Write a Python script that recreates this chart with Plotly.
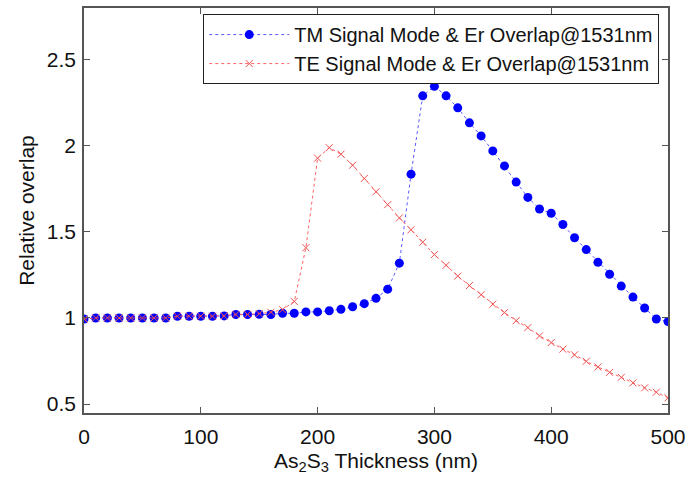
import plotly.graph_objects as go

thickness_nm = list(range(0, 510, 10))

tm_overlap = [0.994, 1.0, 1.0, 1.0, 1.0, 1.0, 1.0, 1.0, 1.01, 1.01,
              1.01, 1.01, 1.012, 1.02, 1.02, 1.021, 1.02, 1.027, 1.027, 1.035,
              1.035, 1.042, 1.05, 1.065, 1.083, 1.114, 1.167, 1.318, 1.835, 2.29,
              2.345, 2.29, 2.22, 2.133, 2.057, 1.97, 1.883, 1.789, 1.70, 1.633,
              1.608, 1.543, 1.466, 1.397, 1.323, 1.254, 1.185, 1.121, 1.058, 0.994,
              0.979]

te_overlap = [0.994, 1.0, 1.0, 1.0, 1.0, 1.0, 1.0, 1.0, 1.01, 1.01,
              1.01, 1.01, 1.012, 1.02, 1.02, 1.025, 1.033, 1.048, 1.096, 1.408,
              1.928, 1.989, 1.951, 1.887, 1.81, 1.733, 1.658, 1.581, 1.512, 1.44,
              1.368, 1.306, 1.243, 1.188, 1.135, 1.08, 1.031, 0.984, 0.944, 0.896,
              0.857, 0.819, 0.786, 0.748, 0.715, 0.684, 0.655, 0.623, 0.594, 0.569,
              0.536]

x_ticks = [0, 100, 200, 300, 400, 500]
y_ticks = [0.5, 1, 1.5, 2, 2.5]

FONT = "Liberation Sans, Arial, sans-serif"
FS = 21

fig = go.Figure()
fig.add_trace(go.Scatter(
    x=thickness_nm, y=tm_overlap, mode="lines+markers",
    name="TM Signal Mode & Er Overlap@1531nm",
    line=dict(color="rgba(70,70,255,0.9)", width=1, dash="dot"),
    marker=dict(symbol="circle", size=9, color="#0000FF"),
))
fig.add_trace(go.Scatter(
    x=thickness_nm, y=te_overlap, mode="lines+markers",
    name="TE Signal Mode & Er Overlap@1531nm",
    line=dict(color="rgba(255,80,80,0.9)", width=1, dash="dot"),
    marker=dict(symbol="x-thin", size=7, color="rgba(0,0,0,0)",
                line=dict(color="#F05050", width=1)),
))

axis_common = dict(
    showgrid=False, zeroline=False, showline=True, linecolor="#555555",
    linewidth=1.5, mirror="allticks", ticks="inside", ticklen=6,
    tickcolor="#555555", tickfont=dict(size=FS, color="#111111", family=FONT),
)

fig.update_layout(
    width=692, height=478,
    margin=dict(l=84, r=21, t=6, b=65),
    paper_bgcolor="white", plot_bgcolor="white",
    font=dict(family=FONT, size=FS, color="#111111"),
    xaxis=dict(range=[0, 500], tickvals=x_ticks, ticklabelstandoff=4,
               title=dict(text="As<sub>2</sub>S<sub>3</sub> Thickness (nm)",
                          font=dict(size=FS), standoff=6),
               **axis_common),
    yaxis=dict(range=[0.448, 2.8], tickvals=y_ticks,
               ticktext=[str(v) for v in y_ticks], ticklabelstandoff=2,
               title=dict(text="Relative overlap", font=dict(size=FS), standoff=6),
               **axis_common),
    legend=dict(x=0.985, y=0.985, xanchor="right", yanchor="top",
                bgcolor="white", bordercolor="#222222", borderwidth=1,
                font=dict(size=20, family=FONT), tracegroupgap=0,
                itemwidth=80),
    showlegend=True,
)

fig.write_html("out.html", config={"displayModeBar": False},
               post_script="document.body.style.margin='0';document.body.style.padding='0';")
